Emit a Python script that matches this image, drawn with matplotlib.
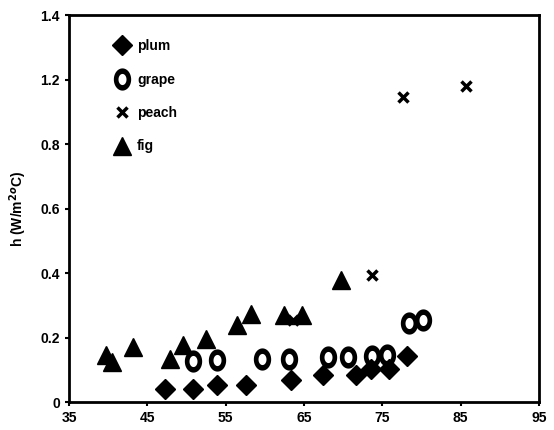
import matplotlib.pyplot as plt
import numpy as np
from matplotlib.path import Path

plt.rcParams['font.family'] = ['Liberation Sans', 'DejaVu Sans']
plt.rcParams['font.weight'] = 'bold'

# data (y in axis position units; labels on the axis skip 1.0)
plum_x = [47.3, 50.8, 53.9, 57.6, 63.3, 67.4, 71.7, 73.6, 75.9, 78.2]
plum_y = [0.042, 0.042, 0.053, 0.053, 0.068, 0.084, 0.084, 0.104, 0.104, 0.143]

grape_x = [50.8, 53.9, 59.6, 63.1, 68.0, 70.6, 73.7, 75.6, 78.4, 80.2]
grape_y = [0.127, 0.130, 0.135, 0.135, 0.141, 0.139, 0.143, 0.146, 0.244, 0.254]

peach_x = [63.6, 73.7, 77.6, 85.7]
peach_y = [0.254, 0.394, 0.947, 0.981]

fig_x = [39.7, 40.5, 43.2, 47.9, 49.5, 52.5, 56.4, 58.2, 62.5, 64.8, 69.7]
fig_y = [0.146, 0.125, 0.171, 0.135, 0.177, 0.197, 0.239, 0.272, 0.27, 0.27, 0.378]

xticks = [35, 45, 55, 65, 75, 85, 95]
yticks = [0, 0.2, 0.4, 0.6, 0.8, 1.0, 1.2]
ytick_labels = ['0', '0.2', '0.4', '0.6', '0.8', '1.2', '1.4']

# thick "O" ring marker, a bit taller than wide
t = np.linspace(0, 2 * np.pi, 60)
outer = np.column_stack([0.78 * np.cos(t), np.sin(t)])
inner = np.column_stack([0.36 * np.cos(t[::-1]), 0.5 * np.sin(t[::-1])])
ring = Path.make_compound_path(Path(outer, closed=True), Path(inner, closed=True))

fig = plt.figure(figsize=(5.54, 4.30), dpi=100)
ax = fig.add_axes([0.1245, 0.065, 0.8485, 0.9])

ax.plot(plum_x, plum_y, 'D', color='black', ms=10, ls='none', label='plum')
ax.plot(grape_x, grape_y, marker=ring, color='black', mew=0, ms=16, ls='none', label='grape')
ax.plot(peach_x, peach_y, 'x', color='black', mew=2.5, ms=7, ls='none', label='peach')
ax.plot(fig_x, fig_y, '^', color='black', ms=13, ls='none', label='fig')

ax.set_xlim(35, 95)
ax.set_ylim(0, 1.2)
ax.set_xticks(xticks)
ax.set_yticks(yticks)
ax.set_yticklabels(ytick_labels)
ax.tick_params(labelsize=10, width=1.5, length=3)
for s in ax.spines.values():
    s.set_linewidth(2)

ax.set_ylabel('h (W/m$^{2o}$C)', fontsize=10, fontweight='bold', labelpad=8)

ax.legend(loc='upper left', bbox_to_anchor=(0.065, 0.97), frameon=False,
          fontsize=10, handletextpad=0.3, labelspacing=1.4, handlelength=1.5)

plt.savefig('out.png', dpi=100)
